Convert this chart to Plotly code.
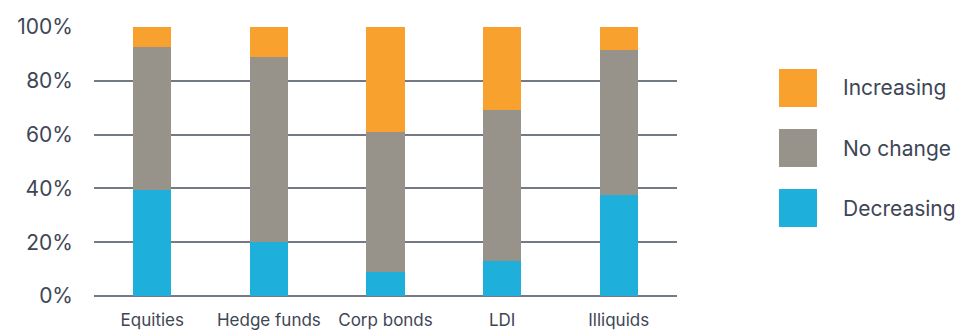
import plotly.graph_objects as go

# Share of respondents by expected allocation change, per asset class
categories = ["Equities", "Hedge funds", "Corp bonds", "LDI", "Illiquids"]
decreasing = [39.5, 20, 9, 13, 37.5]
no_change = [53, 69, 52, 56, 54]
increasing = [7.5, 11, 39, 31, 8.5]
y_ticks = [0, 20, 40, 60, 80, 100]
y_tick_labels = ["0%", "20%", "40%", "60%", "80%", "100%"]

series = [
    ("Decreasing", decreasing, "#1FAFDB"),
    ("No change", no_change, "#97938B"),
    ("Increasing", increasing, "#F9A12E"),
]

W, H = 963, 333
M_L, M_R, M_T, M_B = 94, 286, 27, 37
PLOT_W = W - M_L - M_R
PLOT_H = H - M_T - M_B
TEXT = "#3E4656"
FONT = "Inter, Roboto, sans-serif"


def px_x(px):
    return (px - M_L) / PLOT_W


def px_y(py):
    return (H - M_B - py) / PLOT_H


fig = go.Figure()
for name, vals, color in series:
    fig.add_trace(go.Bar(
        x=categories, y=vals, name=name,
        marker=dict(color=color, line=dict(width=0)),
        showlegend=False,
    ))

# Legend drawn as large swatches with labels to the right of the plot
shapes, annotations = [], []
legend_rows = [("Increasing", "#F9A12E", 88), ("No change", "#97938B", 148), ("Decreasing", "#1FAFDB", 208)]
for label, color, cy in legend_rows:
    shapes.append(dict(
        type="rect", xref="paper", yref="paper",
        x0=px_x(779), x1=px_x(817), y0=px_y(cy + 19), y1=px_y(cy - 19),
        fillcolor=color, line=dict(width=0),
    ))
    annotations.append(dict(
        xref="paper", yref="paper", x=px_x(841), y=px_y(cy),
        xanchor="left", yanchor="middle", text=label, showarrow=False,
        font=dict(family=FONT, size=21, color=TEXT),
    ))

fig.update_layout(
    width=W, height=H,
    margin=dict(l=M_L, r=M_R, t=M_T, b=M_B, pad=0),
    barmode="stack", bargap=0.674,
    plot_bgcolor="white", paper_bgcolor="white",
    font=dict(family=FONT, color=TEXT),
    shapes=shapes, annotations=annotations,
    xaxis=dict(
        showgrid=False, showline=False, zeroline=False, ticks="",
        ticklabelstandoff=12, automargin=False,
        tickfont=dict(size=17, color=TEXT),
    ),
    yaxis=dict(
        range=[0, 100], tickvals=y_ticks, ticktext=y_tick_labels,
        showgrid=True, gridcolor="#737985", gridwidth=1.6,
        zeroline=True, zerolinecolor="#737985", zerolinewidth=1.6,
        showline=False, ticks="", ticklabelstandoff=20, automargin=False,
        tickfont=dict(size=21, color=TEXT),
    ),
)

fig.write_html("out.html")
